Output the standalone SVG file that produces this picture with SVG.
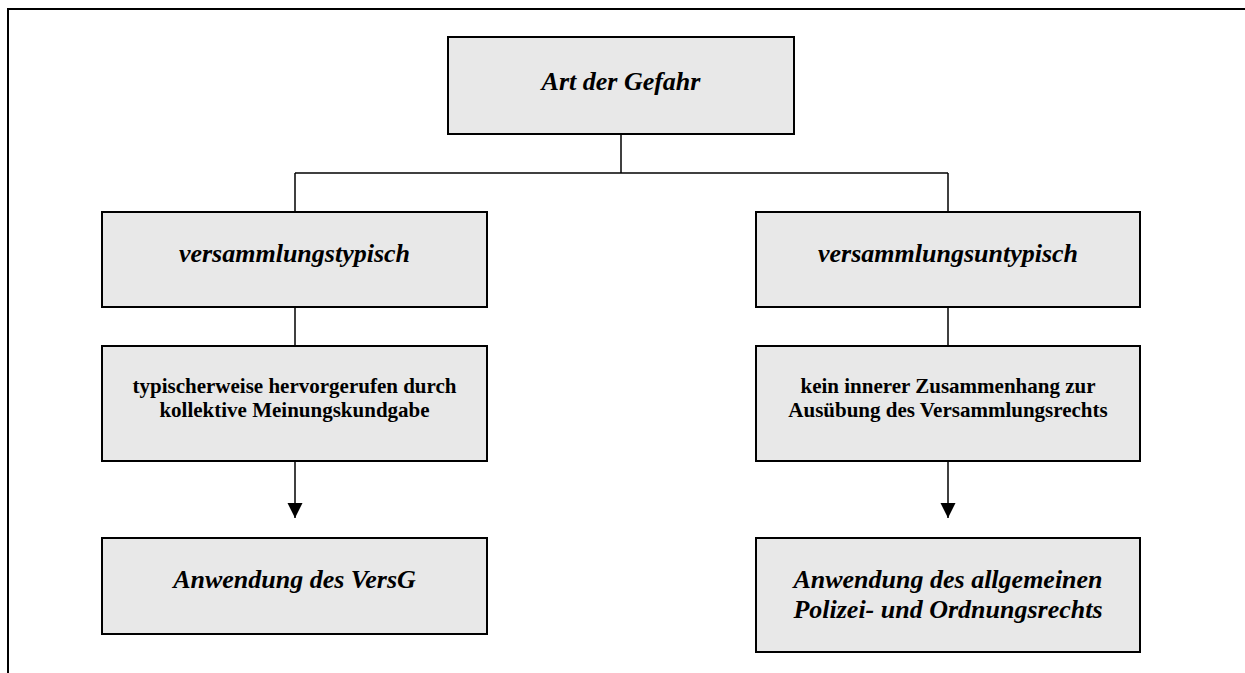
<svg xmlns="http://www.w3.org/2000/svg" width="1245" height="673" viewBox="0 0 1245 673">
  <defs>
    <style>
      .box { fill: #e8e8e8; stroke: #000; stroke-width: 2; }
      .wire { fill: none; stroke: #000; stroke-width: 1.5; }
      .frame { fill: none; stroke: #000; stroke-width: 2; }
      .head { font-family: "Liberation Serif", "Times New Roman", serif; font-weight: bold; font-style: italic; font-size: 26px; text-anchor: middle; fill: #000; }
      .note { font-family: "Liberation Serif", "Times New Roman", serif; font-weight: bold; font-size: 21px; text-anchor: middle; fill: #000; }
    </style>
    <marker id="arrow" markerWidth="16" markerHeight="16" refX="15" refY="7.5" orient="auto" markerUnits="userSpaceOnUse">
      <path d="M0,0 L15,7.5 L0,15 Z" fill="#000"/>
    </marker>
  </defs>
  <rect width="1245" height="673" fill="#fff"/>

  <!-- page frame -->
  <path class="frame" d="M8,673 L8,9 L1245,9"/>

  <!-- connectors -->
  <g id="connectors">
    <path class="wire" d="M621,134 L621,173"/>
    <path class="wire" d="M295,173 L948,173"/>
    <path class="wire" d="M295,173 L295,212"/>
    <path class="wire" d="M948,173 L948,212"/>
    <path class="wire" d="M295,307 L295,346"/>
    <path class="wire" d="M948,307 L948,346"/>
    <path class="wire" d="M295,461 L295,518" marker-end="url(#arrow)"/>
    <path class="wire" d="M948,461 L948,518" marker-end="url(#arrow)"/>
  </g>

  <g id="art-der-gefahr">
    <rect class="box" x="448" y="37" width="346" height="97"/>
    <text class="head" x="621" y="90">Art der Gefahr</text>
  </g>

  <g id="typisch">
    <rect class="box" x="102" y="212" width="385" height="95"/>
    <text class="head" x="294.5" y="262">versammlungstypisch</text>
  </g>

  <g id="untypisch">
    <rect class="box" x="756" y="212" width="384" height="95"/>
    <text class="head" x="948" y="262">versammlungsuntypisch</text>
  </g>

  <g id="typisch-grund">
    <rect class="box" x="102" y="346" width="385" height="115"/>
    <text class="note" x="294.5" y="393">typischerweise hervorgerufen durch</text>
    <text class="note" x="294.5" y="417">kollektive Meinungskundgabe</text>
  </g>

  <g id="untypisch-grund">
    <rect class="box" x="756" y="346" width="384" height="115"/>
    <text class="note" x="948" y="393">kein innerer Zusammenhang zur</text>
    <text class="note" x="948" y="417">Ausübung des Versammlungsrechts</text>
  </g>

  <g id="versg">
    <rect class="box" x="102" y="538" width="385" height="96"/>
    <text class="head" x="294.5" y="588">Anwendung des VersG</text>
  </g>

  <g id="polizeirecht">
    <rect class="box" x="756" y="538" width="384" height="114"/>
    <text class="head" x="948" y="588">Anwendung des allgemeinen</text>
    <text class="head" x="948" y="618">Polizei- und Ordnungsrechts</text>
  </g>
</svg>
